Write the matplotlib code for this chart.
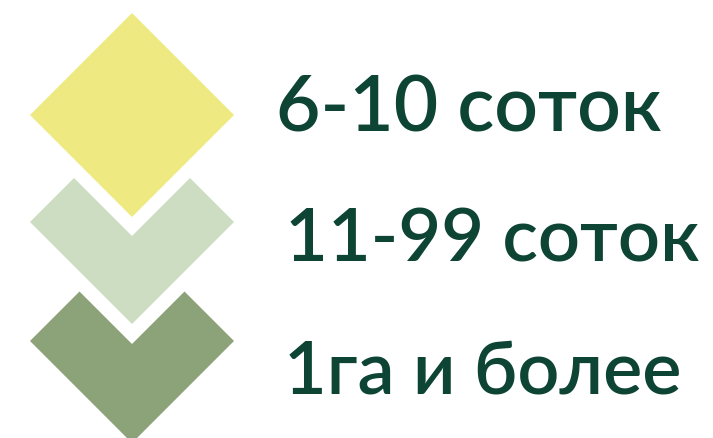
import matplotlib
matplotlib.use("Agg")
import matplotlib.pyplot as plt
from matplotlib.patches import Polygon

labels = ["6-10 соток", "11-99 соток", "1га и более"]
colors = ["#EEE981", "#CCDDC2", "#8CA278"]
text_color = "#0D4433"

W, H = 713, 438
fig = plt.figure(figsize=(W / 100, H / 100), dpi=100)
ax = fig.add_axes([0, 0, 1, 1])
ax.set_xlim(0, W)
ax.set_ylim(H, 0)
ax.axis("off")

cx, half = 132, 102
centers_y = [115, 222, 341]
gaps = [0, 19, 20]

for i, (cy, col) in enumerate(zip(centers_y, colors)):
    if i == 0:
        pts = [(cx, cy - half), (cx + half, cy), (cx, cy + half), (cx - half, cy)]
    else:
        prev_bottom = centers_y[i - 1] + half
        notch = prev_bottom + gaps[i]
        xl = (cy + cx - half - notch + cx) / 2.0
        yl = cy - (xl - (cx - half))
        xr = 2 * cx - xl
        pts = [(cx - half, cy), (xl, yl), (cx, notch), (xr, yl), (cx + half, cy), (cx, cy + half)]
    ax.add_patch(Polygon(pts, closed=True, facecolor=col, edgecolor="none"))

baselines = [131, 262, 393]
lefts = [279, 288, 287]
rights = [665, 703, 685]

fig.canvas.draw()
renderer = fig.canvas.get_renderer()
for s, xl_, xr_, yb in zip(labels, lefts, rights, baselines):
    t = ax.text(xl_, yb, s, fontsize=60, family=["Lato", "DejaVu Sans"], color=text_color,
                weight="semibold", va="baseline", ha="left")
    bb = t.get_window_extent(renderer)
    t.set_fontsize(60 * (xr_ - xl_) / bb.width)
    t.set_x(xl_ - 3)

fig.savefig("out.png", dpi=100)
